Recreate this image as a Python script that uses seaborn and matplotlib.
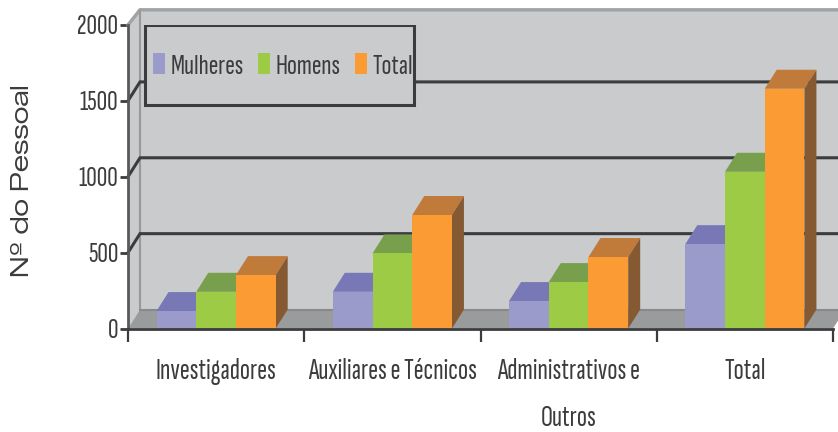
import matplotlib
matplotlib.use("Agg")
import matplotlib.pyplot as plt
import pandas as pd
import seaborn as sns
from matplotlib.patches import Polygon, Rectangle

categories = ["Investigadores", "Auxiliares e Técnicos", "Administrativos e\nOutros", "Total"]
mulheres = [115, 242, 181, 556]
homens = [242, 495, 306, 1033]
total = [352, 748, 471, 1580]
series_names = ["Mulheres", "Homens", "Total"]
yticks = [0, 500, 1000, 1500, 2000]

front = ["#9a9acb", "#9ecb46", "#fa9b33"]
tops = ["#7878b6", "#789f4b", "#c07a3a"]
sides = ["#6a6a9a", "#6f8f3a", "#855932"]
WALL = "#c9cbcd"
FLOOR = "#9a9b9d"
INK = "#3c3c3e"
DX, DY = 0.068, 125

NARROW = ["Sofia Sans Extra Condensed", "Saira ExtraCondensed", "Liberation Sans"]
WIDE = ["Zalando Sans Expanded", "DejaVu Sans"]

sns.set_theme(style="white")
df = pd.DataFrame({
    "cat": categories * 3,
    "serie": [s for s in series_names for _ in categories],
    "v": mulheres + homens + total,
})

fig = plt.figure(figsize=(8.38, 4.32), dpi=100, facecolor="white")
ax = fig.add_axes([128 / 838, (432 - 328.5) / 432, 705 / 838, 303.5 / 432])
sns.barplot(data=df, x="cat", y="v", hue="serie", palette=front, width=0.676, gap=0,
            saturation=1, dodge=True, ax=ax, legend=False, errorbar=None)
ax.set_xlim(-0.5, 3.5)
ax.set_ylim(0, 2000)
ax.patch.set_alpha(0)

x0, x1 = -0.5, 3.5
WALL_TOP = 1975
ax.add_patch(Polygon([(x0 + DX, DY), (x1 + DX, DY), (x1 + DX, WALL_TOP + DY), (x0 + DX, WALL_TOP + DY)],
                     fc=WALL, ec="none", zorder=0.5, clip_on=False))
ax.add_patch(Polygon([(x0, 0), (x0 + DX, DY), (x0 + DX, WALL_TOP + DY), (x0, 2000)],
                     fc=WALL, ec="none", zorder=0.5, clip_on=False))
ax.add_patch(Polygon([(x0, 0), (x0 + DX, DY), (x1 + DX, DY), (x1, 0)],
                     fc=FLOOR, ec="none", zorder=0.7, clip_on=False))
edge = "#a2a3a5"
ax.plot([x0, x0 + DX, x1 + DX], [2000, WALL_TOP + DY, WALL_TOP + DY], color=edge, lw=2.5, zorder=0.9, clip_on=False)
ax.plot([x0 + DX, x0 + DX], [DY, WALL_TOP + DY], color="#98999b", lw=1.5, zorder=0.9, clip_on=False)
ax.plot([x0 + DX, x1 + DX], [DY, DY], color="#88898b", lw=1.5, zorder=0.9, clip_on=False)
for v in yticks[1:-1]:
    ax.plot([x0, x0 + DX, x1 + DX], [v, v + DY, v + DY], color=INK, lw=2.2, zorder=1,
            clip_on=False, solid_joinstyle="miter")

for i, cont in enumerate(ax.containers):
    for bar in cont:
        x, w, h = bar.get_x(), bar.get_width(), bar.get_height()
        bar.set_zorder(3 + i + 0.5)
        bar.set_edgecolor("none")
        ax.add_patch(Polygon([(x, h), (x + DX, h + DY), (x + w + DX, h + DY), (x + w, h)],
                             fc=tops[i], ec="none", zorder=3 + i, clip_on=False))
        ax.add_patch(Polygon([(x + w, 0), (x + w + DX, DY), (x + w + DX, h + DY), (x + w, h)],
                             fc=sides[i], ec="none", zorder=3 + i, clip_on=False))

for s in ["top", "right"]:
    ax.spines[s].set_visible(False)
for s in ["left", "bottom"]:
    ax.spines[s].set_color(INK)
    ax.spines[s].set_linewidth(2)
    ax.spines[s].set_zorder(10)
ax.spines["left"].set_color("#58595b")

ax.set_yticks(yticks)
ax.set_yticklabels([str(t) for t in yticks], family=NARROW, fontsize=21, color=INK)
ax.set_xticks([x0 + k for k in range(5)], minor=False)
ax.set_xticklabels([""] * 5)
ax.tick_params(axis="y", length=6, width=2, color=INK, pad=1, left=True)
ax.tick_params(axis="x", length=9, width=1.6, color=INK, bottom=True)
for k, c in enumerate(categories):
    ax.annotate(c, xy=(k, 0), xycoords=("data", "axes fraction"), xytext=(0, -21.5),
                textcoords="offset points", ha="center", va="top", family=NARROW,
                fontsize=21.5, color=INK, linespacing=1.95, annotation_clip=False)
ax.set_xlabel("")
ax.set_ylabel("Nº do Pessoal", family=WIDE, fontsize=17.5, color=INK)
ax.yaxis.set_label_coords((34 - 128) / 705, (328.5 - 181) / 303.5)

ax.add_patch(Rectangle(((145 - 128) / 705, (328.5 - 105) / 303.5), 269 / 705, 80 / 303.5,
                       transform=ax.transAxes, fc=WALL, ec=INK, lw=2.2, zorder=20))
handles = [Rectangle((0, 0), 1, 1, fc=c, ec="none") for c in front]
leg = ax.legend(handles, series_names, ncol=3, frameon=False, loc="center left",
                bbox_to_anchor=((153 - 128) / 705, (328.5 - 66) / 303.5), borderaxespad=0,
                borderpad=0, columnspacing=0.48, handlelength=0.41, handleheight=0.75, handletextpad=0.2,
                prop={"family": NARROW, "size": 21}, labelcolor=INK)
leg.set_zorder(21)

fig.savefig("out.png", dpi=100, facecolor="white")
